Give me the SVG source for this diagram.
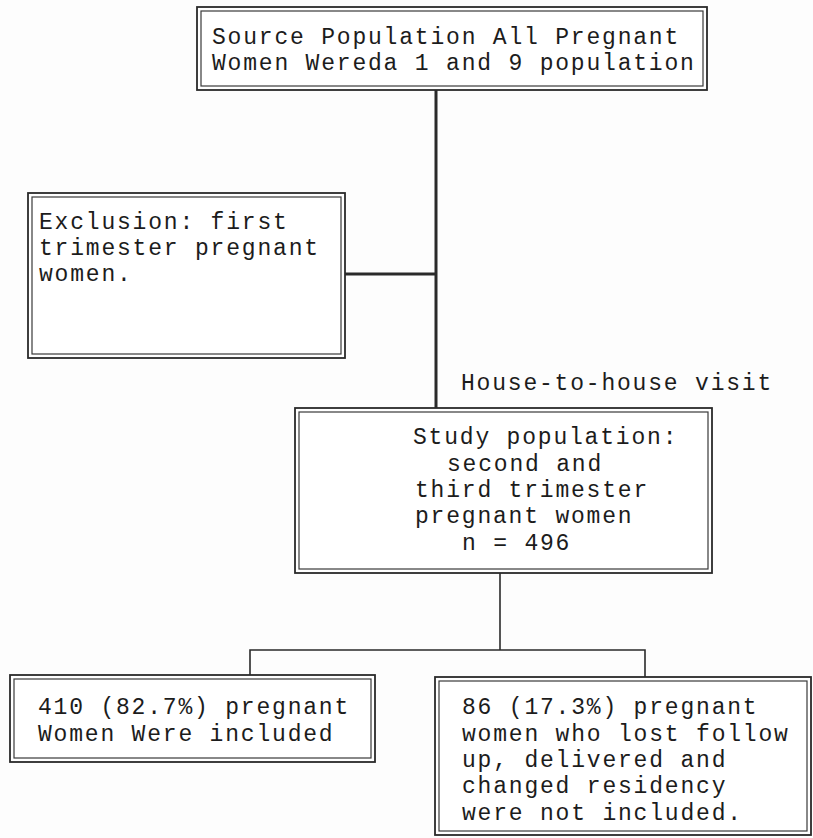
<svg xmlns="http://www.w3.org/2000/svg" width="813" height="838" viewBox="0 0 813 838">
<style>
.o{fill:none;stroke:#2a2a2a;stroke-width:1.8}
.i{fill:none;stroke:#3a3a3a;stroke-width:1.2}
.bg{fill:#fff}
text{font-family:"Liberation Mono","Courier New",monospace;font-size:23px;letter-spacing:1.8px;fill:#1c1c1c}
.c{fill:none;stroke:#2a2a2a;stroke-width:1.6}
.cd{fill:none;stroke:#2a2a2a;stroke-width:3}
</style>
<rect x="0" y="0" width="813" height="838" fill="#fdfdfd"/>
<g id="connectors">
<line class="cd" x1="436" y1="90" x2="436" y2="409"/>
<line class="cd" x1="345" y1="274" x2="436" y2="274"/>
<line class="c" x1="500" y1="573" x2="500" y2="650"/>
<polyline class="c" points="250,675 250,650 645,650 645,677"/>
</g>
<g id="source">
<rect class="o bg" x="197" y="7" width="510" height="83"/>
<rect class="i" x="201" y="11" width="502" height="75"/>
<text x="212" y="44">Source Population All Pregnant</text>
<text x="212" y="70">Women Wereda 1 and 9 population</text>
</g>
<g id="exclusion">
<rect class="o bg" x="28" y="193" width="317" height="165"/>
<rect class="i" x="32" y="197" width="309" height="157"/>
<text x="39" y="229">Exclusion: first</text>
<text x="39" y="255">trimester pregnant</text>
<text x="39" y="281">women.</text>
</g>
<g id="visit-label">
<text x="461" y="390">House-to-house visit</text>
</g>
<g id="study">
<rect class="o bg" x="295" y="408" width="417" height="165"/>
<rect class="i" x="299" y="412" width="409" height="157"/>
<text x="413" y="444">Study population:</text>
<text x="447" y="471">second and</text>
<text x="415" y="497">third trimester</text>
<text x="415" y="523">pregnant women</text>
<text x="462" y="550">n = 496</text>
</g>
<g id="included">
<rect class="o bg" x="10" y="675" width="365" height="87"/>
<rect class="i" x="14" y="679" width="357" height="79"/>
<text x="38" y="714">410 (82.7%) pregnant</text>
<text x="38" y="741">Women Were included</text>
</g>
<g id="excluded">
<rect class="o bg" x="435" y="677" width="376" height="158"/>
<rect class="i" x="439" y="681" width="368" height="150"/>
<text x="462" y="714">86 (17.3%) pregnant</text>
<text x="462" y="741">women who lost follow</text>
<text x="462" y="767">up, delivered and</text>
<text x="462" y="793">changed residency</text>
<text x="462" y="820">were not included.</text>
</g>
</svg>
